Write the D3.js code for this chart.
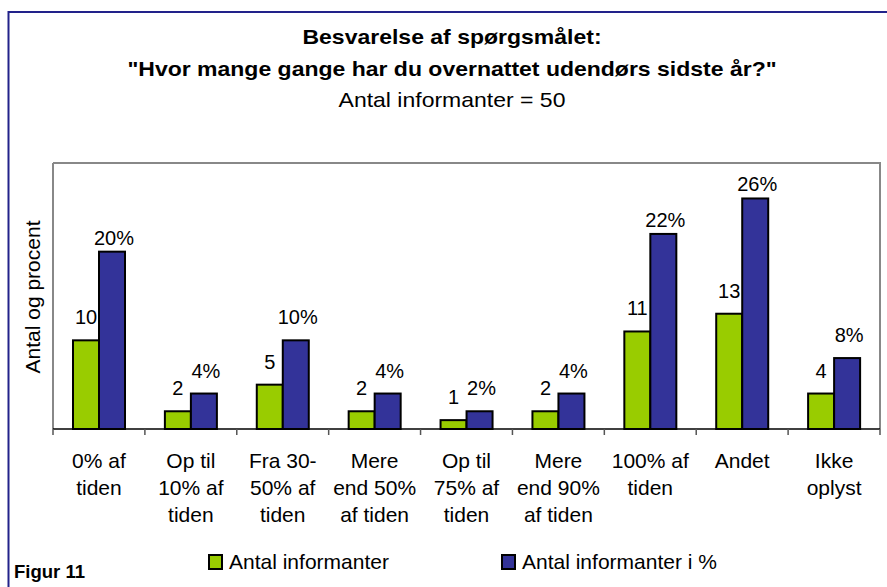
<!DOCTYPE html>
<html>
<head>
<meta charset="utf-8">
<script src="https://cdn.jsdelivr.net/npm/d3@7"></script>
<style>
  body { margin: 0; background: #fff; }
  svg { display: block; font-family: "Liberation Sans", Arial, sans-serif; }
</style>
</head>
<body>
<div id="chart"></div>
<script>
const categories = [
  ['0% af', 'tiden'],
  ['Op til', '10% af', 'tiden'],
  ['Fra 30-', '50% af', 'tiden'],
  ['Mere', 'end 50%', 'af tiden'],
  ['Op til', '75% af', 'tiden'],
  ['Mere', 'end 90%', 'af tiden'],
  ['100% af', 'tiden'],
  ['Andet'],
  ['Ikke', 'oplyst']
];
const antal = [10, 2, 5, 2, 1, 2, 11, 13, 4];
const procent = [20, 4, 10, 4, 2, 4, 22, 26, 8];
const seriesNames = ['Antal informanter', 'Antal informanter i %'];
const colors = ['#99cc00', '#333399'];

const width = 887, height = 587;
const plot = { left: 53, right: 880, top: 163, bottom: 429 };

const svg = d3.select('#chart').append('svg')
  .attr('width', width).attr('height', height);

// outer frame
svg.append('rect')
  .attr('x', 8.5).attr('y', 12).attr('width', 900).attr('height', 600)
  .attr('fill', 'none').attr('stroke', '#22228a').attr('stroke-width', 2);

// titles (slightly wider type than the labels)
const titleLines = [
  { text: 'Besvarelse af spørgsmålet:', y: 43.5, bold: true },
  { text: '"Hvor mange gange har du overnattet udendørs sidste år?"', y: 75.5, bold: true },
  { text: 'Antal informanter = 50', y: 107, bold: false }
];
titleLines.forEach(l => {
  svg.append('g')
    .attr('transform', `translate(452,${l.y}) scale(1.15,1)`)
    .append('text')
    .attr('text-anchor', 'middle')
    .attr('font-size', 20)
    .attr('font-weight', l.bold ? 'bold' : 'normal')
    .text(l.text);
});

const x = d3.scaleBand().domain(d3.range(categories.length))
  .range([plot.left, plot.right]);
const y = d3.scaleLinear().domain([0, 30]).range([plot.bottom, plot.top]);
const barW = 26;

// plot border
svg.append('path')
  .attr('d', `M${plot.left},${plot.top}H${plot.right}V${plot.bottom}`)
  .attr('fill', 'none').attr('stroke', '#888').attr('stroke-width', 2);
svg.append('line')
  .attr('x1', plot.left).attr('x2', plot.left)
  .attr('y1', plot.top).attr('y2', plot.bottom)
  .attr('stroke', '#888').attr('stroke-width', 2);

// bars
[antal, procent].forEach((vals, s) => {
  const g = svg.append('g');
  g.selectAll('rect').data(vals).join('rect')
    .attr('x', (d, i) => x(i) + 20 + s * barW)
    .attr('y', d => y(d))
    .attr('width', barW)
    .attr('height', d => y(0) - y(d))
    .attr('fill', colors[s])
    .attr('stroke', '#000').attr('stroke-width', 2);
  g.selectAll('text').data(vals).join('text')
    .attr('x', (d, i) => x(i) + 20 + s * barW + barW / 2 + (s ? 2 : 0))
    .attr('y', d => y(d) - (d >= 20 ? 7 : 16))
    .attr('text-anchor', 'middle')
    .attr('font-size', 20)
    .text(d => s ? d + '%' : d);
});

// x axis
const xAxis = svg.append('g');
xAxis.append('line')
  .attr('x1', plot.left).attr('x2', plot.right)
  .attr('y1', plot.bottom).attr('y2', plot.bottom)
  .attr('stroke', '#000').attr('stroke-width', 1.5);
xAxis.selectAll('line.tick').data(d3.range(categories.length + 1)).join('line')
  .attr('class', 'tick')
  .attr('x1', i => plot.left + i * x.bandwidth())
  .attr('x2', i => plot.left + i * x.bandwidth())
  .attr('y1', plot.bottom).attr('y2', plot.bottom + 6)
  .attr('stroke', '#555').attr('stroke-width', 1.5);

const labels = xAxis.selectAll('text').data(categories).join('text')
  .attr('text-anchor', 'middle').attr('font-size', 21);
labels.selectAll('tspan').data((d, i) => d.map(t => ({ t, i }))).join('tspan')
  .attr('x', d => x(d.i) + x.bandwidth() / 2)
  .attr('y', (d, j) => 468 + j * 27)
  .text(d => d.t);

// y label
svg.append('text')
  .attr('transform', 'translate(39.5,297) rotate(-90)')
  .attr('text-anchor', 'middle').attr('font-size', 21)
  .text('Antal og procent');

// legend
const legendX = [209, 502];
seriesNames.forEach((name, s) => {
  svg.append('rect')
    .attr('x', legendX[s]).attr('y', 555).attr('width', 13).attr('height', 14)
    .attr('fill', colors[s]).attr('stroke', '#000').attr('stroke-width', 2);
  svg.append('text')
    .attr('x', legendX[s] + 20).attr('y', 569)
    .attr('font-size', 21).text(name);
});

svg.append('text')
  .attr('x', 14).attr('y', 577.5)
  .attr('font-size', 18.5).attr('font-weight', 'bold').text('Figur 11');
</script>
</body>
</html>
